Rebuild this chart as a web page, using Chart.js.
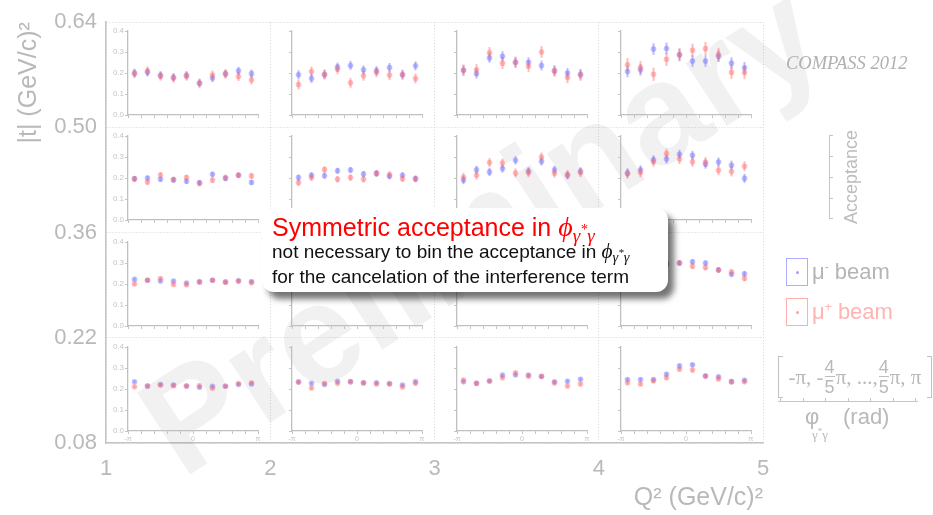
<!DOCTYPE html>
<html>
<head>
<meta charset="utf-8">
<script src="https://cdn.jsdelivr.net/npm/chart.js@4.4.1/dist/chart.umd.min.js"></script>
<style>
body { margin: 0; background: #fff; }
#wrap { position: relative; width: 933px; height: 515px; overflow: hidden; font-family: "Liberation Sans", Arial, Helvetica, sans-serif; color: #b9b9b9; }
#main { position: absolute; left: 0; top: 0; z-index: 0; }
#watermark { position: absolute; left: 480px; top: 228px; transform: translate(-50%, -50%) rotate(-33deg); font: bold 142px "Liberation Sans", Arial, sans-serif; color: rgba(0,0,0,0.055); white-space: nowrap; line-height: 1; z-index: 1; }
#panels canvas { position: absolute; z-index: 2; }
#callout { position: absolute; left: 262px; top: 208px; width: 406px; height: 84px; background: #fff; border-radius: 12px; box-shadow: 6px 7px 6px rgba(0,0,0,0.55); z-index: 5; }
#callout div { position: absolute; left: 10px; white-space: nowrap; line-height: 1; }
.l1 { top: 5px; font-size: 25px; color: #ff0000; }
.l2 { top: 33px; font-size: 19px; color: #111; }
.l3 { top: 59px; font-size: 19px; color: #111; }
.phi { font-family: "Liberation Serif", "DejaVu Serif", serif; font-style: italic; font-size: 1.12em; }
.phi sub { font-size: 0.68em; vertical-align: -0.3em; }
.phi sub sup { font-size: 0.75em; vertical-align: 0.55em; }
.side { position: absolute; white-space: nowrap; line-height: 1; z-index: 3; }
#compass { left: 786px; top: 53px; font: italic 18.5px "Liberation Serif", "Times New Roman", serif; color: #b0b0b0; }
#acc { left: 851px; top: 177px; transform: translate(-50%, -50%) rotate(-90deg); font-size: 18px; color: #bcbcbc; }
.gline { position: absolute; background: #c6c6c6; z-index: 3; }
.lbox { position: absolute; width: 20px; height: 26px; z-index: 3; }
.lbox i { position: absolute; left: 9px; top: 12px; width: 3px; height: 3px; border-radius: 50%; }
.leg { font-size: 22px; }
.leg sup { font-size: 0.55em; vertical-align: 0.7em; }
#rng { position: absolute; left: 778px; top: 356px; width: 154px; height: 42px; display: flex; align-items: center; justify-content: center; font: 21px "Liberation Serif", serif; color: #b9b9b9; z-index: 3; }
.frac { display: inline-flex; flex-direction: column; align-items: center; font: 18px "Liberation Sans", Arial, sans-serif; line-height: 1; margin: 0 1px; }
.frac span:last-child { border-top: 1px solid #bdbdbd; padding-top: 1px; }
.brk { position: absolute; top: 0; width: 4px; height: 40px; border: 1px solid #c2c2c2; }
</style>
</head>
<body>
<div id="wrap">
  <canvas id="main" width="933" height="515"></canvas>
  <div id="watermark">Preliminary</div>
  <div id="panels"></div>

  <div id="callout">
    <div class="l1">Symmetric acceptance in <span class="phi">ϕ<sub>γ<sup>*</sup>γ</sub></span></div>
    <div class="l2">not necessary to bin the acceptance in <span class="phi">ϕ<sub>γ<sup>*</sup>γ</sub></span></div>
    <div class="l3">for the cancelation of the interference term</div>
  </div>

  <div id="compass" class="side">COMPASS 2012</div>

  <div class="gline" style="left:829px;top:135px;width:1px;height:84px"></div>
  <div class="gline" style="left:829px;top:135px;width:4px;height:1px"></div>
  <div class="gline" style="left:829px;top:156px;width:4px;height:1px"></div>
  <div class="gline" style="left:829px;top:177px;width:4px;height:1px"></div>
  <div class="gline" style="left:829px;top:198px;width:4px;height:1px"></div>
  <div class="gline" style="left:829px;top:218px;width:4px;height:1px"></div>
  <div id="acc" class="side">Acceptance</div>

  <div class="lbox" style="left:786px;top:258px;border:1px solid rgba(120,120,255,0.6)"><i style="background:rgba(120,120,255,0.7)"></i></div>
  <div class="side leg" style="left:812px;top:261px;color:#b5b5b5">μ<sup>-</sup> beam</div>
  <div class="lbox" style="left:786px;top:298px;border:1px solid rgba(255,120,120,0.6)"><i style="background:rgba(255,120,120,0.7)"></i></div>
  <div class="side leg" style="left:812px;top:301px;color:#ffb3b3">μ<sup>+</sup> beam</div>

  <div id="rng">
    <div class="brk" style="left:0;border-right:none"></div>
    -π, -<span class="frac"><span>4</span><span>5</span></span>π, ..., <span class="frac"><span>4</span><span>5</span></span>π, π
    <div class="brk" style="right:0;border-left:none"></div>
  </div>

  <div class="gline" style="left:778px;top:401px;width:140px;height:1px"></div>
  <div class="gline" style="left:780px;top:398px;width:1px;height:3px"></div>
  <div class="gline" style="left:803px;top:398px;width:1px;height:3px"></div>
  <div class="gline" style="left:825px;top:398px;width:1px;height:3px"></div>
  <div class="gline" style="left:848px;top:398px;width:1px;height:3px"></div>
  <div class="gline" style="left:870px;top:398px;width:1px;height:3px"></div>
  <div class="gline" style="left:893px;top:398px;width:1px;height:3px"></div>
  <div class="gline" style="left:915px;top:398px;width:1px;height:3px"></div>
  <div class="side" style="left:805px;top:406px;font-size:22px">φ</div>
  <div class="side" style="left:812px;top:426px;font:13px 'Liberation Serif',serif">γ<sup style="font-size:9px">*</sup>γ</div>
  <div class="side" style="left:843px;top:406px;font-size:22px">(rad)</div>
</div>

<script>
// phi bin centres and edges, in units of pi
var phiBins = [-0.9, -0.7, -0.5, -0.3, -0.1, 0.1, 0.3, 0.5, 0.7, 0.9];
var phiEdges = [-1, -0.8, -0.6, -0.4, -0.2, 0, 0.2, 0.4, 0.6, 0.8, 1];
var q2Ticks = [1, 2, 3, 4, 5];
var tTicks = [0.08, 0.22, 0.36, 0.50, 0.64];
var accTicks = [0, 0.1, 0.2, 0.3, 0.4];

// acceptance per panel; panels go row by row from the top |t| bin, Q2 bins left to right
var accMuMinus = [
  [0.200, 0.203, 0.189, 0.180, 0.189, 0.151, 0.176, 0.197, 0.210, 0.197],
  [0.192, 0.174, 0.193, 0.228, 0.236, 0.215, 0.211, 0.226, 0.192, 0.234],
  [0.213, 0.197, 0.272, 0.280, 0.251, 0.251, 0.236, 0.210, 0.200, 0.194],
  [0.207, 0.215, 0.314, 0.317, 0.287, 0.257, 0.257, 0.280, 0.247, 0.225],

  [0.197, 0.200, 0.194, 0.191, 0.184, 0.178, 0.218, 0.198, 0.213, 0.179],
  [0.202, 0.213, 0.211, 0.234, 0.238, 0.219, 0.222, 0.208, 0.213, 0.197],
  [0.190, 0.239, 0.229, 0.245, 0.284, 0.232, 0.279, 0.239, 0.213, 0.232],
  [0.223, 0.239, 0.287, 0.290, 0.313, 0.308, 0.266, 0.276, 0.261, 0.198],

  [0.222, 0.218, 0.214, 0.214, 0.205, 0.210, 0.218, 0.210, 0.215, 0.212],
  [0.225, 0.220, 0.218, 0.224, 0.226, 0.222, 0.220, 0.221, 0.217, 0.223],
  [0.238, 0.242, 0.250, 0.262, 0.268, 0.265, 0.258, 0.247, 0.240, 0.236],
  [0.235, 0.245, 0.280, 0.292, 0.300, 0.306, 0.300, 0.267, 0.246, 0.249],

  [0.234, 0.214, 0.221, 0.219, 0.214, 0.208, 0.213, 0.213, 0.221, 0.224],
  [0.234, 0.227, 0.221, 0.237, 0.235, 0.230, 0.230, 0.226, 0.219, 0.235],
  [0.234, 0.227, 0.238, 0.266, 0.267, 0.267, 0.261, 0.234, 0.237, 0.246],
  [0.245, 0.245, 0.245, 0.270, 0.310, 0.315, 0.262, 0.258, 0.235, 0.242]
];
var accMuPlus = [
  [0.197, 0.210, 0.185, 0.175, 0.185, 0.152, 0.190, 0.195, 0.183, 0.167],
  [0.145, 0.207, 0.193, 0.218, 0.153, 0.187, 0.203, 0.190, 0.192, 0.174],
  [0.213, 0.215, 0.296, 0.247, 0.251, 0.232, 0.300, 0.210, 0.179, 0.190],
  [0.239, 0.226, 0.194, 0.265, 0.287, 0.308, 0.316, 0.288, 0.203, 0.202],

  [0.195, 0.181, 0.214, 0.193, 0.202, 0.174, 0.190, 0.202, 0.213, 0.210],
  [0.178, 0.202, 0.240, 0.194, 0.202, 0.194, 0.222, 0.216, 0.197, 0.195],
  [0.203, 0.213, 0.274, 0.271, 0.224, 0.226, 0.300, 0.223, 0.216, 0.226],
  [0.221, 0.226, 0.277, 0.316, 0.290, 0.277, 0.276, 0.237, 0.231, 0.256],

  [0.200, 0.218, 0.226, 0.198, 0.196, 0.210, 0.218, 0.208, 0.214, 0.206],
  [0.222, 0.216, 0.221, 0.219, 0.228, 0.224, 0.217, 0.223, 0.220, 0.218],
  [0.234, 0.246, 0.255, 0.258, 0.262, 0.270, 0.252, 0.243, 0.238, 0.232],
  [0.230, 0.236, 0.270, 0.300, 0.300, 0.285, 0.279, 0.267, 0.257, 0.227],

  [0.211, 0.214, 0.219, 0.216, 0.214, 0.216, 0.203, 0.213, 0.226, 0.230],
  [0.232, 0.205, 0.227, 0.227, 0.234, 0.229, 0.224, 0.224, 0.210, 0.227],
  [0.243, 0.227, 0.238, 0.254, 0.277, 0.261, 0.259, 0.229, 0.214, 0.224],
  [0.230, 0.224, 0.238, 0.254, 0.294, 0.290, 0.262, 0.248, 0.235, 0.234]
];
// statistical error (half length of the bar) per panel
var errMuMinus = [0.018, 0.020, 0.022, 0.026, 0.010, 0.013, 0.018, 0.020, 0.006, 0.007, 0.008, 0.010, 0.005, 0.005, 0.006, 0.007];
var errMuPlus = [0.020, 0.022, 0.026, 0.030, 0.012, 0.014, 0.020, 0.022, 0.007, 0.008, 0.010, 0.012, 0.005, 0.006, 0.007, 0.008];

var grey = '#b9b9b9';
var blue = 'rgba(110,110,255,0.45)';
var pink = 'rgba(255,110,110,0.45)';

Chart.defaults.font.family = '"Liberation Sans", Arial, Helvetica, sans-serif';

// outer frame: Q2 vs |t| bins
var main = new Chart(document.getElementById('main'), {
  type: 'scatter',
  data: { datasets: [] },
  options: {
    responsive: false,
    animation: false,
    layout: { padding: { top: 18, right: 170, left: 0, bottom: 0 } },
    plugins: { legend: { display: false }, tooltip: { enabled: false } },
    scales: {
      x: {
        type: 'linear', min: 1, max: 5,
        afterBuildTicks: function (s) { s.ticks = q2Ticks.map(function (v) { return { value: v }; }); },
        afterFit: function (s) { s.height = 72; },
        ticks: { color: grey, font: { size: 22 }, padding: 13, callback: function (v) { return String(v); } },
        grid: { color: '#d4d4d4', drawTicks: false },
        border: { color: '#c4c4c4', width: 1.5, dash: [1, 2] },
        title: { display: true, text: 'Q² (GeV/c)²', align: 'end', color: grey, font: { size: 25 }, padding: { top: 0, bottom: 2 } }
      },
      y: {
        type: 'linear', min: 0.08, max: 0.64,
        afterBuildTicks: function (s) { s.ticks = tTicks.map(function (v) { return { value: v }; }); },
        afterFit: function (s) { s.width = 106; },
        ticks: { color: grey, font: { size: 22 }, padding: 9, callback: function (v) { return v.toFixed(2); } },
        grid: { color: '#d4d4d4', drawTicks: false },
        border: { color: '#c4c4c4', width: 1.5, dash: [1, 2] },
        title: { display: true, text: '|t| (GeV/c)²', align: 'end', color: grey, font: { size: 25 }, padding: { top: 14, bottom: 0 } }
      }
    }
  }
});

function errorBars(vals, err) {
  return phiBins.map(function (p, i) { return { x: p, y: [vals[i] - err, vals[i] + err] }; });
}
function points(vals) {
  return phiBins.map(function (p, i) { return { x: p, y: vals[i] }; });
}

function miniChart(idx) {
  var row = Math.floor(idx / 4), col = idx % 4;
  var left = Math.round(main.scales.x.getPixelForValue(q2Ticks[col]));
  var right = Math.round(main.scales.x.getPixelForValue(q2Ticks[col + 1]));
  var top = Math.round(main.scales.y.getPixelForValue(tTicks[4 - row]));
  var bottom = Math.round(main.scales.y.getPixelForValue(tTicks[3 - row]));
  var w = right - left, h = bottom - top;

  var cv = document.createElement('canvas');
  cv.width = w; cv.height = h;
  cv.style.left = left + 'px';
  cv.style.top = top + 'px';
  document.getElementById('panels').appendChild(cv);

  new Chart(cv, {
    type: 'scatter',
    data: {
      datasets: [
        { type: 'bar', data: errorBars(accMuMinus[idx], errMuMinus[idx]), backgroundColor: blue, barThickness: 1.4, grouped: false, order: 4 },
        { type: 'bar', data: errorBars(accMuPlus[idx], errMuPlus[idx]), backgroundColor: pink, barThickness: 1.4, grouped: false, order: 3 },
        { label: 'μ- beam', data: points(accMuMinus[idx]), pointRadius: 2.8, pointBorderWidth: 0, pointBackgroundColor: blue, order: 2 },
        { label: 'μ+ beam', data: points(accMuPlus[idx]), pointRadius: 2.8, pointBorderWidth: 0, pointBackgroundColor: pink, order: 1 }
      ]
    },
    options: {
      responsive: false,
      animation: false,
      events: [],
      layout: { padding: { top: 9, right: w - 152, left: 0, bottom: 0 } },
      plugins: { legend: { display: false }, tooltip: { enabled: false } },
      scales: {
        x: {
          type: 'linear', min: -1, max: 1, offset: false,
          afterBuildTicks: function (s) { s.ticks = phiEdges.map(function (v) { return { value: v }; }); },
          afterFit: function (s) { s.height = h - 9 - 84; },
          ticks: {
            autoSkip: false, maxRotation: 0, padding: 1, color: '#c4c4c4', font: { size: 7 },
            callback: function (v) {
              if (row !== 3) return '';
              return v === -1 ? '-π' : v === 0 ? '0' : v === 1 ? 'π' : '';
            }
          },
          grid: { drawOnChartArea: false, offset: false, tickLength: 3, color: '#c4c4c4' },
          border: { color: '#c0c0c0', width: 1.3 }
        },
        y: {
          type: 'linear', min: 0, max: 0.4,
          afterBuildTicks: function (s) { s.ticks = accTicks.map(function (v) { return { value: v }; }); },
          afterFit: function (s) { s.width = 22; },
          ticks: {
            padding: 1, color: '#c4c4c4', font: { size: 8 },
            callback: function (v) { return col === 0 ? v.toFixed(1) : ''; }
          },
          grid: { drawOnChartArea: false, tickLength: 3, color: '#c4c4c4' },
          border: { color: '#c0c0c0', width: 1.3 }
        }
      }
    }
  });
}

for (var k = 0; k < 16; k++) miniChart(k);
</script>
</body>
</html>
